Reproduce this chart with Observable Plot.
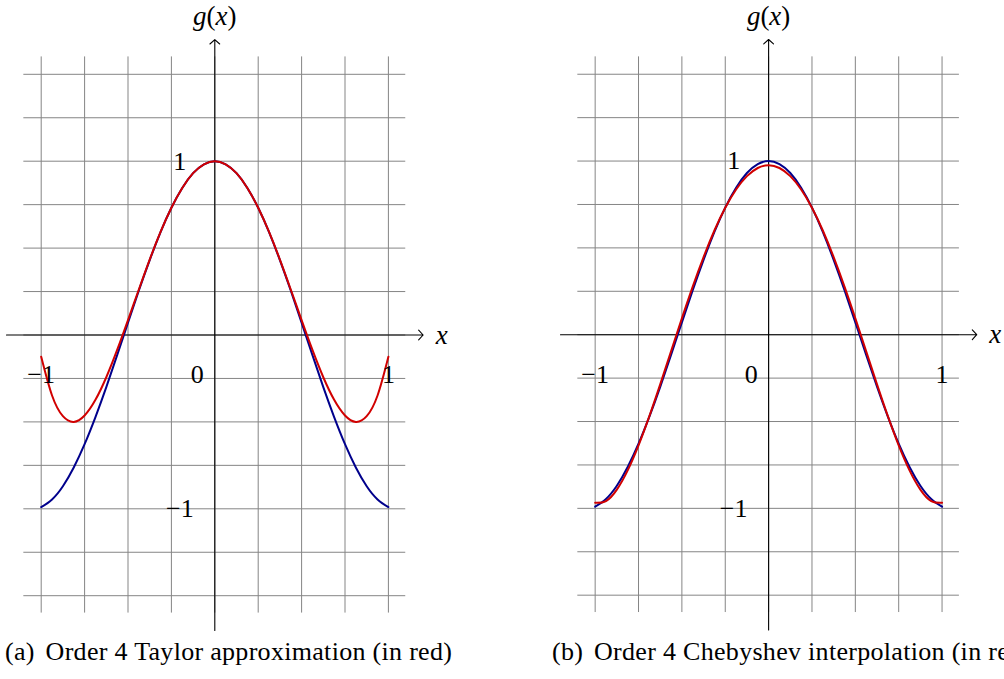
<!DOCTYPE html>
<html>
<head>
<meta charset="utf-8">
<script src="https://cdn.jsdelivr.net/npm/d3@7"></script>
<script src="https://cdn.jsdelivr.net/npm/@observablehq/plot@0.6"></script>
<style>
  html, body { margin: 0; padding: 0; background: #fff; }
  #page { position: relative; width: 1004px; height: 679px; overflow: hidden; font-family: "Liberation Serif", "Times New Roman", serif; }
  .panel { position: absolute; top: 0; }
  .caption { position: absolute; top: 639px; font-size: 26px; line-height: 26px; letter-spacing: 0.3px; white-space: nowrap; color: #000; }
  .caption .tag { margin-right: 4px; }
</style>
</head>
<body>
<div id="page">
  <div class="panel" id="panel-a" style="left:0px"></div>
  <div class="panel" id="panel-b" style="left:554.4px"></div>
  <div class="caption" style="left:5px"><span class="tag">(a)</span> Order 4 Taylor approximation (in red)</div>
  <div class="caption" style="left:552px"><span class="tag">(b)</span> Order 4 Chebyshev interpolation (in red)</div>
</div>
<script>
// Sample abscissae on [-1, 1]
const xs = [
  -1, -0.9375, -0.875, -0.8125, -0.75, -0.6875, -0.625, -0.5625,
  -0.5, -0.4375, -0.375, -0.3125, -0.25, -0.1875, -0.125, -0.0625,
  0,
  0.0625, 0.125, 0.1875, 0.25, 0.3125, 0.375, 0.4375, 0.5,
  0.5625, 0.625, 0.6875, 0.75, 0.8125, 0.875, 0.9375, 1
];

// g(x), the function being approximated (blue)
const gValues = [
  -0.990, -0.946, -0.870, -0.762, -0.628, -0.472, -0.300, -0.116,
  0.071, 0.256, 0.431, 0.592, 0.732, 0.846, 0.931, 0.982,
  1.000,
  0.982, 0.931, 0.846, 0.732, 0.592, 0.431, 0.256, 0.071,
  -0.116, -0.300, -0.472, -0.628, -0.762, -0.870, -0.946, -0.990
];

// Order 4 Taylor polynomial about 0 (red, panel a)
const taylorValues = [
  -0.125, -0.348, -0.467, -0.500, -0.463, -0.373, -0.243, -0.086,
  0.086, 0.262, 0.434, 0.593, 0.732, 0.846, 0.931, 0.982,
  1.000,
  0.982, 0.931, 0.846, 0.732, 0.593, 0.434, 0.262, 0.086,
  -0.086, -0.243, -0.373, -0.463, -0.500, -0.467, -0.348, -0.125
];

// Order 4 Chebyshev interpolant (red, panel b)
const chebyshevValues = [
  -0.968, -0.958, -0.892, -0.781, -0.637, -0.469, -0.286, -0.096,
  0.094, 0.277, 0.447, 0.600, 0.731, 0.836, 0.913, 0.960,
  0.976,
  0.960, 0.913, 0.836, 0.731, 0.600, 0.447, 0.277, 0.094,
  -0.096, -0.286, -0.469, -0.637, -0.781, -0.892, -0.958, -0.968
];

// Grid lines (step 0.25) and labelled ticks
const gridX = [-1, -0.75, -0.5, -0.25, 0, 0.25, 0.5, 0.75, 1];
const gridY = [-1.5, -1.25, -1, -0.75, -0.5, -0.25, 0, 0.25, 0.5, 0.75, 1, 1.25, 1.5];
const xTickLabels = [-1, 0, 1];
const yTickLabels = [1, -1];

const fmt = d => (d < 0 ? "\u2212" + Math.abs(d) : String(d));
const serif = '"Liberation Serif", "Times New Roman", serif';

function panel(approx) {
  const rows = xs.map((x, i) => ({x, g: gValues[i], p: approx[i]}));
  const svg = Plot.plot({
    width: 450,
    height: 640,
    style: {fontFamily: serif, fontSize: "26px", background: "transparent", overflow: "visible", color: "#000"},
    x: {domain: [-1, 1], range: [40.7, 387.9], axis: null},
    y: {domain: [-1, 1], range: [508.3, 160.7], axis: null},
    marks: [
      // help-line grid
      Plot.ruleX(gridX, {x: d => d, y1: -1.6, y2: 1.6, stroke: "#858585", strokeWidth: 1}),
      Plot.ruleY(gridY, {y: d => d, x1: -1.1, x2: 1.1, stroke: "#858585", strokeWidth: 1}),
      // axes with arrow tips
      Plot.arrow([0], {x1: -1.2, y1: 0, x2: 1.2, y2: 0, stroke: "#000", strokeWidth: 1.1, headLength: 9, headAngle: 95}),
      Plot.arrow([0], {x1: 0, y1: -1.7, x2: 0, y2: 1.7, stroke: "#000", strokeWidth: 1.1, headLength: 9, headAngle: 95}),
      // curves
      Plot.line(rows, {x: "x", y: "g", stroke: "#00008c", strokeWidth: 2, curve: "natural"}),
      Plot.line(rows, {x: "x", y: "p", stroke: "#d10000", strokeWidth: 2, curve: "natural"}),
      // tick labels
      Plot.text(xTickLabels.filter(d => d !== 0), {x: d => d, y: 0, text: fmt, dy: 40, fontSize: 26}),
      Plot.text(xTickLabels.filter(d => d === 0), {x: d => d, y: 0, text: fmt, dx: -17.5, dy: 40, fontSize: 26}),
      Plot.text(yTickLabels, {x: 0, y: d => d, text: fmt, dx: -35, fontSize: 26}),
      // axis names
      Plot.text(["x"], {x: 1.2, y: 0, text: d => d, dx: 18.5, fontSize: 27, fontStyle: "italic"}),
      Plot.text(["g(x)"], {x: 0, y: 1.7, text: d => d, dy: -23, fontSize: 27})
    ]
  });
  // italic g and x inside the upright parentheses
  d3.select(svg).selectAll("text")
    .filter(function () { return this.textContent === "g(x)"; })
    .html('<tspan font-style="italic">g</tspan>(<tspan font-style="italic">x</tspan>)');
  return svg;
}

document.getElementById("panel-a").appendChild(panel(taylorValues));
document.getElementById("panel-b").appendChild(panel(chebyshevValues));
</script>
</body>
</html>
